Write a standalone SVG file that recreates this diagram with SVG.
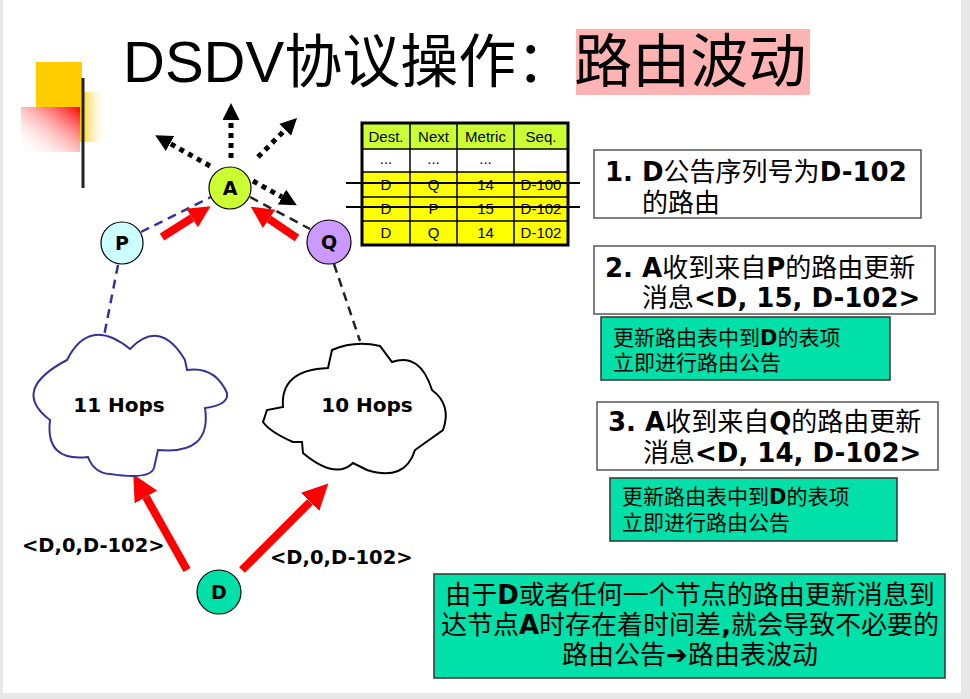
<svg xmlns="http://www.w3.org/2000/svg" width="970" height="699" viewBox="0 0 970 699">
<defs>
<linearGradient id="gRed" x1="1" y1="0" x2="0" y2="1">
<stop offset="0" stop-color="#FF0000"/><stop offset="1" stop-color="#FFFFFF" stop-opacity="0"/>
</linearGradient>
<linearGradient id="gYel" x1="0" y1="0" x2="1" y2="0">
<stop offset="0" stop-color="#FFCC00"/><stop offset="1" stop-color="#FFFFFF" stop-opacity="0"/>
</linearGradient>
<linearGradient id="gLine" x1="0" y1="0" x2="1" y2="0">
<stop offset="0" stop-color="#333333"/><stop offset="0.6" stop-color="#999999"/><stop offset="1" stop-color="#FFFFFF"/>
</linearGradient>
<marker id="dotHead" viewBox="0 0 17 17" refX="0" refY="8.5" markerWidth="17" markerHeight="17" markerUnits="userSpaceOnUse" orient="auto">
<path d="M0,0 L17,8.5 L0,17 Z" fill="#000"/>
</marker>
<marker id="redHead" viewBox="0 0 22 22" refX="0" refY="11" markerWidth="22" markerHeight="22" markerUnits="userSpaceOnUse" orient="auto">
<path d="M0,0 L22,11 L0,22 Z" fill="#FF0000"/>
</marker>
<marker id="redHeadL" viewBox="0 0 26 26" refX="0" refY="13" markerWidth="26" markerHeight="26" markerUnits="userSpaceOnUse" orient="auto">
<path d="M0,0 L26,13 L0,26 Z" fill="#FF0000"/>
</marker>
</defs>
<style>
.node{stroke:#000;stroke-width:1.2}
.nl{font-family:"DejaVu Sans",sans-serif;font-weight:bold;font-size:19px;text-anchor:middle}
.dot{stroke:#000;stroke-width:5;stroke-dasharray:5 5;fill:none}
.red{stroke:#FF0000;stroke-width:8;fill:none}
.dashB{stroke:#333399;stroke-width:2.5;stroke-dasharray:9 6;fill:none}
.dashK{stroke:#222;stroke-width:2.5;stroke-dasharray:9 6;fill:none}
.lbl{font-family:"DejaVu Sans",sans-serif;font-weight:bold;font-size:19.5px}
.hop{font-family:"DejaVu Sans",sans-serif;font-weight:bold;font-size:20px;text-anchor:middle}
.tb{font-family:"Liberation Sans",Arial,sans-serif;font-size:15px;text-anchor:middle}
.box{fill:#fff;stroke:#555;stroke-width:1.5}
.gbox{fill:#00E0A8;stroke:#333;stroke-width:1.5}
.t{font-family:"DejaVu Sans","Noto Sans CJK SC",sans-serif;font-size:26px;fill:#000}
.t2{font-family:"DejaVu Sans","Noto Sans CJK SC",sans-serif;font-size:21px;fill:#000}
.t3{font-family:"DejaVu Sans","Noto Sans CJK SC",sans-serif;font-size:26px;fill:#000;text-anchor:middle}
.b{font-weight:bold}
.c{font-family:"Noto Sans CJK SC",sans-serif}
</style>
<rect x="0" y="0" width="970" height="699" fill="#E8E8E8"/>
<rect x="3" y="0" width="958" height="693" fill="#FFFFFF"/>

<g id="decoration">
<rect x="36" y="62" width="46" height="45" fill="#FFCC00"/>
<rect x="80" y="92" width="27" height="50" fill="url(#gYel)"/>
<rect x="21" y="107" width="59" height="45" fill="url(#gRed)"/>
<line x1="83" y1="78" x2="83" y2="188" stroke="#222" stroke-width="3"/>
<line x1="59" y1="108" x2="912" y2="108" stroke="url(#gLine)" stroke-width="3.5"/>
</g>

<g id="title">
<rect x="576" y="29" width="234" height="66" fill="#FFB3B3"/>
<text x="123" y="82" font-size="58" font-family="Liberation Sans, Arial, sans-serif">DSDV<tspan font-family="Noto Sans CJK SC, sans-serif">协议操作：路由波动</tspan></text>
</g>

<g id="connectors">
<line class="dot" x1="231" y1="158" x2="231" y2="120" marker-end="url(#dotHead)"/>
<line class="dot" x1="258" y1="157" x2="285" y2="130" marker-end="url(#dotHead)"/>
<line class="dot" x1="210" y1="166" x2="170" y2="143.5" marker-end="url(#dotHead)"/>
<line class="dot" x1="253" y1="181" x2="282" y2="197" marker-end="url(#dotHead)"/>
<line class="dashB" x1="141" y1="232" x2="211" y2="197"/>
<line class="dashB" x1="118" y1="265" x2="104" y2="336"/>
<line class="dashK" x1="250" y1="197" x2="310" y2="229"/>
<line class="dashK" x1="334" y1="264" x2="360" y2="341"/>
<line class="red" x1="162" y1="237" x2="192" y2="218" marker-end="url(#redHead)"/>
<line class="red" x1="297" y1="238" x2="269" y2="219" marker-end="url(#redHead)"/>
<line class="red" x1="187" y1="570" x2="146" y2="497" marker-end="url(#redHeadL)"/>
<line class="red" x1="242" y1="570" x2="310" y2="502" marker-end="url(#redHeadL)"/>
</g>

<g id="cloud11">
<path d="M67,360 Q89,316 130,349 Q160,318 185,360 L187,370 Q215,366 227,393 Q229,405 205,408 Q212,455 158,450 L154,468 Q150,480 110,474 Q94,473 88,457 Q45,462 50,420 Q10,390 67,360 Z" fill="#fff" stroke="#333399" stroke-width="2"/>
<text class="hop" x="119" y="412">11 Hops</text>
</g>
<g id="cloud10">
<path d="M328,368 L332,350 Q355,340 380,346 L392,362 Q420,352 432,390 Q452,405 443,430 L415,450 Q405,482 367,470 L353,463 Q335,480 303,453 L302,442 L293,442 Q270,432 263,422 L267,410 L283,407 Q280,370 328,368 Z" fill="#fff" stroke="#000" stroke-width="2"/>
<text class="hop" x="367" y="412">10 Hops</text>
</g>

<g id="nodeA"><circle class="node" cx="230" cy="188" r="21" fill="#CCFF33"/><text class="nl" x="230" y="195">A</text></g>
<g id="nodeP"><circle class="node" cx="122" cy="243" r="21" fill="#CCFFFF"/><text class="nl" x="122" y="250">P</text></g>
<g id="nodeQ"><circle class="node" cx="329" cy="242" r="22" fill="#CC99FF"/><text class="nl" x="329" y="249">Q</text></g>
<g id="nodeD"><circle class="node" cx="219" cy="592" r="22" fill="#00E0A8"/><text class="nl" x="219" y="599">D</text></g>

<g id="labels">
<text class="lbl" x="22" y="552">&lt;D,0,D-102&gt;</text>
<text class="lbl" x="270" y="564">&lt;D,0,D-102&gt;</text>
</g>

<g id="table">
<rect x="362" y="123" width="206" height="26" fill="#CCFF33"/>
<rect x="362" y="149" width="206" height="23" fill="#FFFFFF"/>
<rect x="362" y="172" width="206" height="73" fill="#FFFF00"/>
<g stroke="#000" stroke-width="1.5">
<line x1="410" y1="123" x2="410" y2="245"/><line x1="457" y1="123" x2="457" y2="245"/><line x1="514" y1="123" x2="514" y2="245"/>
<line x1="362" y1="149" x2="568" y2="149"/><line x1="362" y1="172" x2="568" y2="172"/><line x1="362" y1="197" x2="568" y2="197"/><line x1="362" y1="221" x2="568" y2="221"/>
</g>
<rect x="362" y="123" width="206" height="122" fill="none" stroke="#000" stroke-width="3"/>
<text class="tb" x="386" y="142">Dest.</text><text class="tb" x="433.5" y="142">Next</text><text class="tb" x="485.5" y="142">Metric</text><text class="tb" x="541" y="142">Seq.</text>
<text class="tb" x="386" y="164">...</text><text class="tb" x="433.5" y="164">...</text><text class="tb" x="485.5" y="164">...</text>
<text class="tb" x="386" y="190">D</text><text class="tb" x="433.5" y="190">Q</text><text class="tb" x="485.5" y="190">14</text><text class="tb" x="541" y="190">D-100</text>
<text class="tb" x="386" y="214">D</text><text class="tb" x="433.5" y="214">P</text><text class="tb" x="485.5" y="214">15</text><text class="tb" x="541" y="214">D-102</text>
<text class="tb" x="386" y="238">D</text><text class="tb" x="433.5" y="238">Q</text><text class="tb" x="485.5" y="238">14</text><text class="tb" x="541" y="238">D-102</text>
<line x1="346" y1="183" x2="580" y2="183" stroke="#000" stroke-width="2"/>
<line x1="346" y1="207" x2="580" y2="207" stroke="#000" stroke-width="2"/>
</g>

<g id="step1">
<rect class="box" x="594" y="150" width="327" height="68"/>
<text class="t" x="605" y="181"><tspan class="b">1. D</tspan><tspan class="c">公告序列号为</tspan><tspan class="b">D-102</tspan></text>
<text class="t" x="642" y="212"><tspan class="c">的路由</tspan></text>
</g>
<g id="step2">
<rect class="box" x="594" y="246" width="341" height="68"/>
<text class="t" x="605" y="277"><tspan class="b">2. A</tspan><tspan class="c">收到来自</tspan><tspan class="b">P</tspan><tspan class="c">的路由更新</tspan></text>
<text class="t" x="642" y="307"><tspan class="c">消息</tspan><tspan class="b">&lt;D, 15, D-102&gt;</tspan></text>
</g>
<g id="note2">
<rect class="gbox" x="601" y="317" width="289" height="63"/>
<text class="t2" x="613" y="345"><tspan class="c">更新路由表中到</tspan><tspan class="b">D</tspan><tspan class="c">的表项</tspan></text>
<text class="t2" x="613" y="370"><tspan class="c">立即进行路由公告</tspan></text>
</g>
<g id="step3">
<rect class="box" x="597" y="402" width="341" height="68"/>
<text class="t" x="608" y="431"><tspan class="b">3. A</tspan><tspan class="c">收到来自</tspan><tspan class="b">Q</tspan><tspan class="c">的路由更新</tspan></text>
<text class="t" x="643" y="462"><tspan class="c">消息</tspan><tspan class="b">&lt;D, 14, D-102&gt;</tspan></text>
</g>
<g id="note3">
<rect class="gbox" x="610" y="478" width="287" height="63"/>
<text class="t2" x="622" y="504"><tspan class="c">更新路由表中到</tspan><tspan class="b">D</tspan><tspan class="c">的表项</tspan></text>
<text class="t2" x="622" y="530"><tspan class="c">立即进行路由公告</tspan></text>
</g>
<g id="summary">
<rect class="gbox" x="434" y="574" width="511" height="104"/>
<text class="t3" x="690" y="604"><tspan class="c">由于</tspan><tspan class="b">D</tspan><tspan class="c">或者任何一个节点的路由更新消息到</tspan></text>
<text class="t3" x="690" y="634"><tspan class="c">达节点</tspan><tspan class="b">A</tspan><tspan class="c">时存在着时间差</tspan><tspan class="b">,</tspan><tspan class="c">就会导致不必要的</tspan></text>
<text class="t3" x="690" y="664"><tspan class="c">路由公告</tspan><tspan class="b">➔</tspan><tspan class="c">路由表波动</tspan></text>
</g>
</svg>
